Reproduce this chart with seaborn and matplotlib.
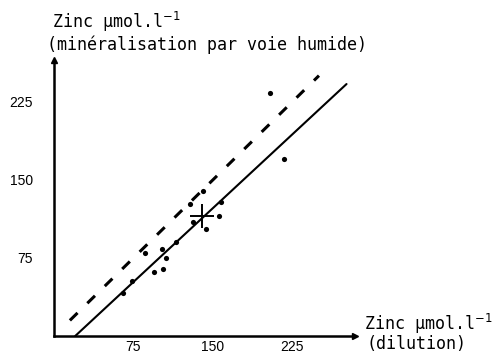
"""
Zinc: wet mineralisation vs dilution
"""

import matplotlib.pyplot as plt
import numpy as np
import pandas as pd
import seaborn as sns

# measured points (umol/l)
zinc_dilution = [65, 74, 86, 94, 101.5, 102.5, 106, 115, 128, 131, 141, 143, 156, 157.5, 204, 217]
zinc_humide = [41, 53, 79.5, 61, 84, 64, 74.5, 90, 127, 109, 139, 102.5, 115, 129, 233, 170]

# mean point
mean_x = [140]
mean_y = [115]

# regression line y = a*x + b
slope = 0.945
intercept = -18.9
fit_range = [20, 276]

# identity line y = x
ident_range = [15, 250]

ticks = [75, 150, 225]

sns.set_style("white")
plt.rcParams['font.family'] = ['Liberation Sans', 'DejaVu Sans']
plt.rcParams['text.color'] = 'black'
plt.rcParams['xtick.color'] = 'black'
plt.rcParams['ytick.color'] = 'black'

fig = plt.figure(figsize=(5.0, 3.54), dpi=100)
ax = fig.add_axes([0.108, 0.0508, 0.602, 0.7797])

df = pd.DataFrame({"x": zinc_dilution, "y": zinc_humide})
sns.scatterplot(data=df, x="x", y="y", ax=ax, color="black", s=14, edgecolor="black", linewidth=0)

fx = np.array(fit_range, dtype=float)
sns.lineplot(x=fx, y=slope * fx + intercept, ax=ax, color="black", linewidth=1.5)

ix = np.array(ident_range, dtype=float)
sns.lineplot(x=ix, y=ix, ax=ax, color="black", linewidth=2.2, dashes=False, linestyle=(0, (3.5, 4.5)))

ax.plot(mean_x, mean_y, marker="+", markersize=17, mew=1.4, color="black", linestyle="none")

ax.set_xlim(0, 284)
ax.set_ylim(0, 265)

for side in ["top", "right"]:
    ax.spines[side].set_visible(False)
for side in ["left", "bottom"]:
    ax.spines[side].set_linewidth(1.8)
    ax.spines[side].set_color("black")

# arrow heads on the axes
ax.plot(1, 0, ">k", markersize=5, transform=ax.transAxes, clip_on=False)
ax.plot(0, 1, "^k", markersize=5, transform=ax.transAxes, clip_on=False)

ax.set_xticks(ticks)
ax.set_yticks(ticks)
ax.set_xticklabels([str(t) for t in ticks], fontsize=10)
ax.set_yticklabels([str(t) for t in ticks], fontsize=10)
ax.tick_params(axis="both", direction="inout", length=6, width=1.3, color="black")
ax.tick_params(axis="y", pad=12)
ax.tick_params(axis="x", pad=0)
ax.set_xlabel("")
ax.set_ylabel("")

mono = ['DejaVu Sans Mono']
fig.text(0.104, 0.92, "Zinc µmol.l$^{-1}$", fontsize=12, family=mono, ha="left", va="baseline")
fig.text(0.094, 0.86, "(minéralisation par voie humide)", fontsize=12, family=mono,
         ha="left", va="baseline")
fig.text(0.728, 0.068, "Zinc µmol.l$^{-1}$", fontsize=12, family=mono, ha="left", va="baseline")
fig.text(0.734, 0.014, "(dilution)", fontsize=12, family=mono, ha="left", va="baseline")

fig.savefig("out.png", dpi=100)
plt.close()
